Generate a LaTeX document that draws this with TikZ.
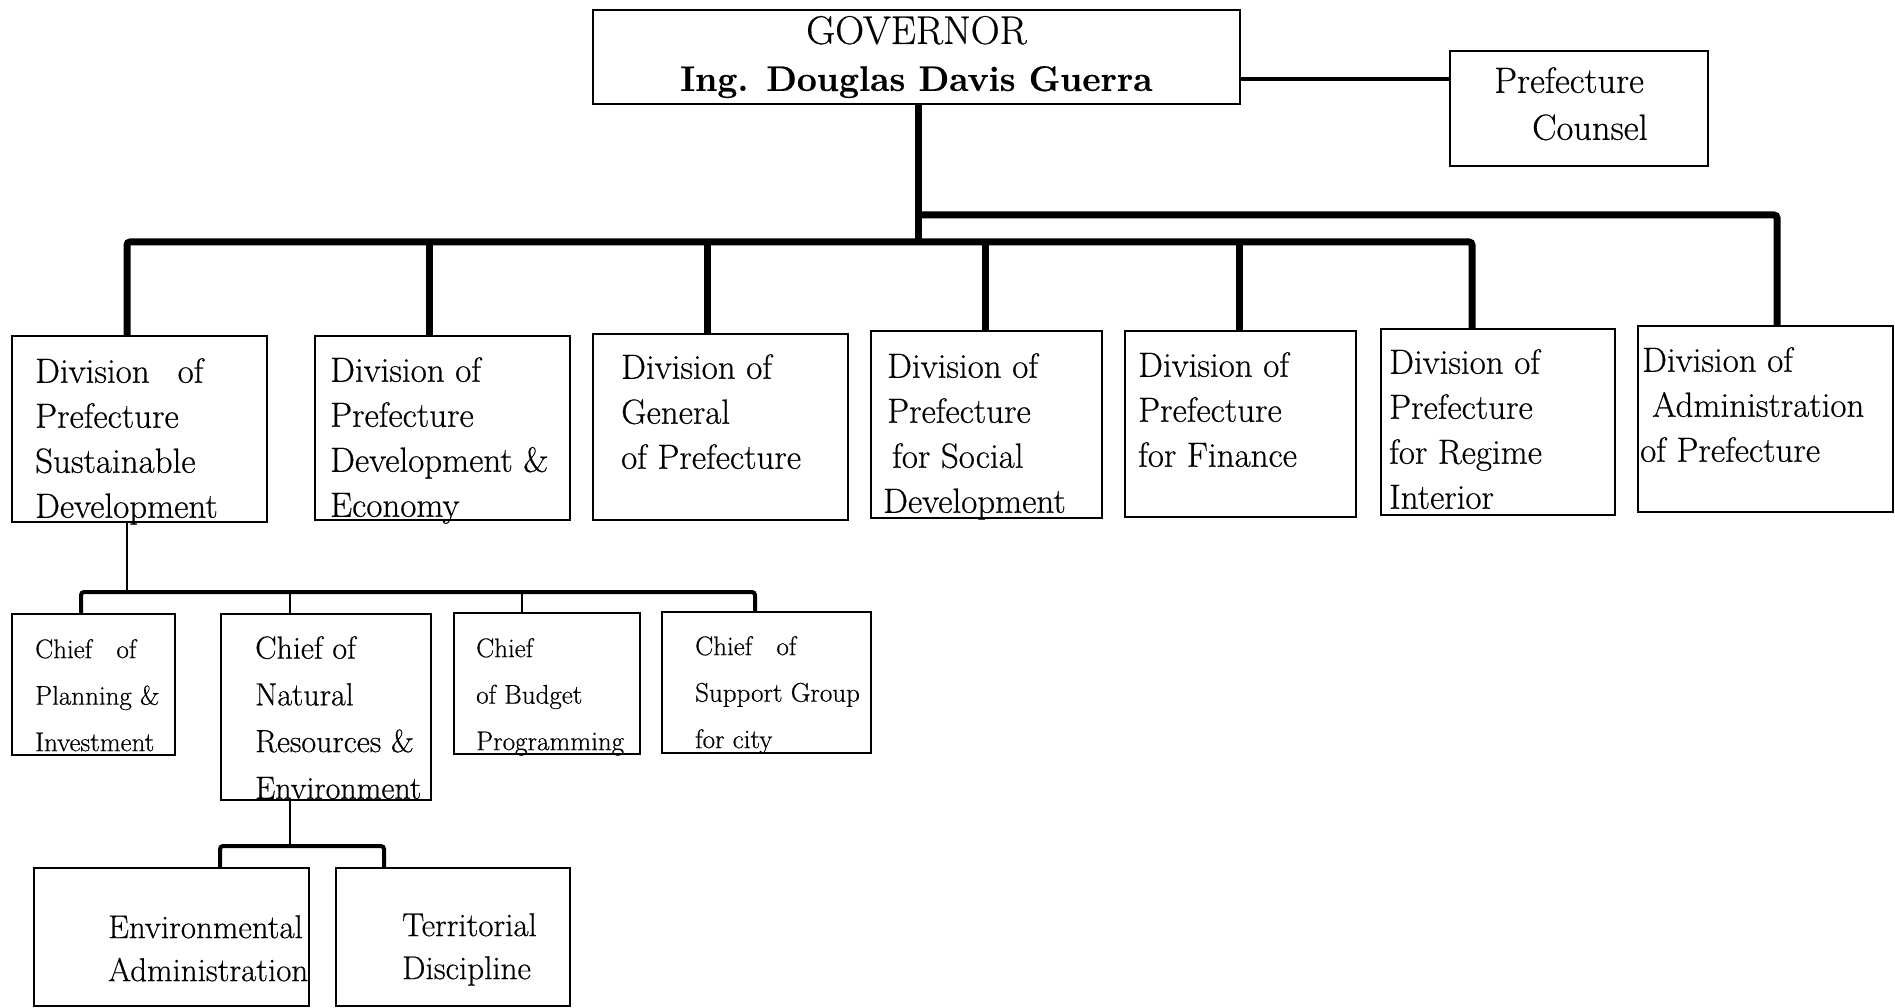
\documentclass[tikz,border=0pt]{standalone}
\usepackage{fontspec}
\setmainfont{Latin Modern Roman}[FakeBold=0.5]
\begin{document}
\begin{tikzpicture}[x=1pt,y=-1pt,
  box/.style={draw, line width=2.4pt, inner sep=0pt, fill=white},
  thinbox/.style={draw, line width=1.6pt, inner sep=0pt},
  txt/.style={inner sep=0pt, anchor=north west, align=left},
  divtxt/.style={txt, font=\fontsize{35}{45}\selectfont},
  chieftxt/.style={txt, font=\fontsize{27}{46.5}\selectfont},
  bigchieftxt/.style={txt, font=\fontsize{32}{46.7}\selectfont},
  lowtxt/.style={txt, font=\fontsize{33}{43}\selectfont},
  bus/.style={line width=7pt, rounded corners=3pt},
  subbus/.style={line width=2.6pt},
  subbar/.style={line width=4pt, rounded corners=3pt},
  link/.style={line width=3.5pt}]
\useasboundingbox (0,0) rectangle (1895,1008);

% top level
\node[box, minimum width=647, minimum height=94, align=center,
  font=\fontsize{40}{47}\selectfont] (gov) at (916.5,57)
  {GOVERNOR\\{\bfseries\fontsize{35.5}{47}\selectfont Ing. Douglas Davis Guerra}};
\node[thinbox, minimum width=258, minimum height=115] (couns) at (1579,108.5) {};
\node[txt, font=\fontsize{36.5}{47}\selectfont] (tcouns) at (1494,67)
  {Prefecture\\\hspace*{38pt}Counsel};

% divisions
\node[box, minimum width=255, minimum height=186] (d1) at (139.5,429) {};
\node[box, minimum width=255, minimum height=184] (d2) at (442.5,428) {};
\node[box, minimum width=255, minimum height=186] (d3) at (720.5,427) {};
\node[box, minimum width=231, minimum height=187] (d4) at (986.5,424.5) {};
\node[box, minimum width=231, minimum height=186] (d5) at (1240.5,424) {};
\node[box, minimum width=234, minimum height=186] (d6) at (1498,422) {};
\node[box, minimum width=255, minimum height=186] (d7) at (1765.5,419) {};

\node[divtxt] (t1) at (35,358) {Division\hspace{0.8em}of\\Prefecture\\Sustainable\\Development};
\node[divtxt] (t2) at (330,357) {Division of\\Prefecture\\Development \&\\Economy};
\node[divtxt] (t3) at (621,354) {Division of\\General\\of Prefecture};
\node[divtxt] (t4) at (883,353) {\hspace*{4pt}Division of\\\hspace*{4pt}Prefecture\\\hspace*{9pt}for Social\\Development};
\node[divtxt] (t5) at (1138,352) {Division of\\Prefecture\\for Finance};
\node[divtxt] (t6) at (1389,349) {Division of\\Prefecture\\for Regime\\Interior};
\node[divtxt] (t7) at (1640,347) {\hspace*{2pt}Division of\\\hspace*{12pt}Administration\\of Prefecture};

% chiefs
\node[box, minimum width=163, minimum height=141] (c1) at (93.5,684.5) {};
\node[box, minimum width=210, minimum height=186] (c2) at (326,707) {};
\node[box, minimum width=186, minimum height=141] (c3) at (547,683.5) {};
\node[box, minimum width=209, minimum height=141] (c4) at (766.5,682.5) {};

\node[chieftxt] (tc1) at (35,639) {Chief\hspace{0.9em}of\\Planning \&\\Investment};
\node[bigchieftxt] (tc2) at (255,636) {Chief of\\Natural\\Resources \&\\Environment};
\node[chieftxt] (tc3) at (476,638) {Chief\\of Budget\\Programming};
\node[chieftxt] (tc4) at (695,636) {Chief\hspace{0.9em}of\\Support Group\\for city};

% lowest level
\node[box, minimum width=275, minimum height=138] (e1) at (171.5,937) {};
\node[box, minimum width=234, minimum height=138] (e2) at (453,937) {};
\node[lowtxt] (te1) at (108,915) {Environmental\\Administration};
\node[lowtxt] (te2) at (402,913) {Territorial\\Discipline};

% connectors: governor
\coordinate (gc) at (1240,79);
\draw[link] (gc) -- (gc -| couns.west);

\coordinate (bj) at (918,242);
\coordinate (b1) at (127,242);
\coordinate (b2) at (429,242);
\coordinate (b3) at (707,242);
\coordinate (b4) at (985,242);
\coordinate (b5) at (1239,242);
\coordinate (b6) at (1472,242);
\coordinate (u1) at (918,215);
\coordinate (u2) at (1777,215);

\draw[bus] (gov.south -| bj) -- (bj);
\draw[bus] (b1 |- d1.north) -- (b1) -- (b6) -- (b6 |- d6.north);
\draw[bus] (b2) -- (b2 |- d2.north);
\draw[bus] (b3) -- (b3 |- d3.north);
\draw[bus] (b4) -- (b4 |- d4.north);
\draw[bus] (b5) -- (b5 |- d5.north);
\draw[bus] (u1) -- (u2) -- (u2 |- d7.north);

% connectors: chiefs
\coordinate (s0) at (127,592);
\coordinate (s1) at (81,592);
\coordinate (s2) at (290,592);
\coordinate (s3) at (522,592);
\coordinate (s4) at (755,592);
\draw[subbus] (d1.south -| s0) -- (s0);
\draw[subbar] (s1 |- c1.north) -- (s1) -- (s4) -- (s4 |- c4.north);
\draw[subbus] (s2) -- (s2 |- c2.north);
\draw[subbus] (s3) -- (s3 |- c3.north);

% connectors: lowest
\coordinate (l0) at (290,846);
\coordinate (l1) at (220,846);
\coordinate (l2) at (384,846);
\draw[subbus] (c2.south -| l0) -- (l0);
\draw[subbar] (l1 |- e1.north) -- (l1) -- (l2) -- (l2 |- e2.north);
\end{tikzpicture}
\end{document}
